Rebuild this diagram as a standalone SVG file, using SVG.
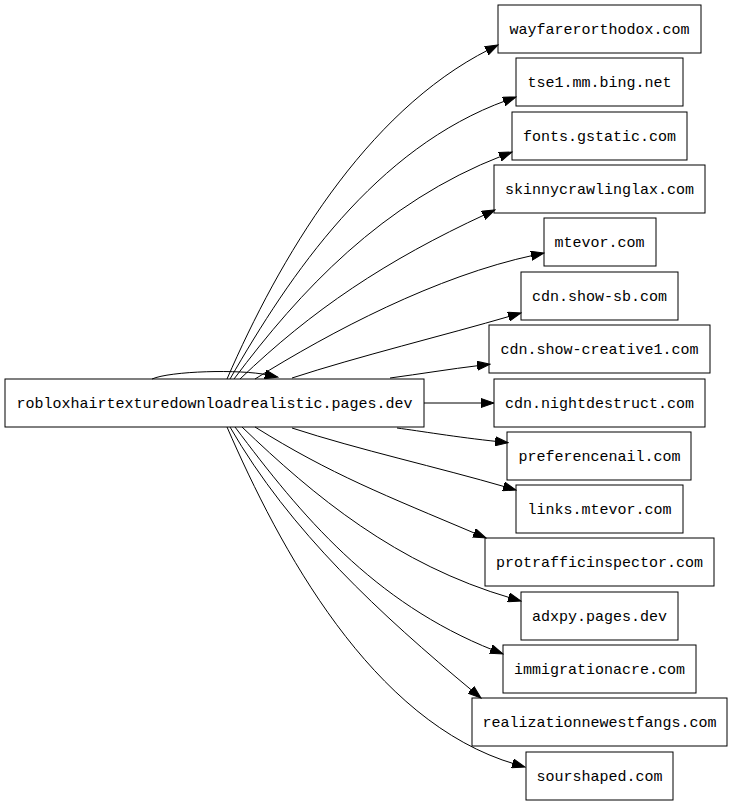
<svg xmlns="http://www.w3.org/2000/svg" width="733" height="805" viewBox="0 0 733 805">
<style>
.n rect{fill:none;stroke:#000;stroke-width:1}
.n text{font-family:"Liberation Mono","DejaVu Sans Mono",monospace;font-size:15px;fill:#000;text-anchor:middle}
.e path{fill:none;stroke:#000;stroke-width:1;marker-end:url(#ah)}
</style>
<defs>
<marker id="ah" viewBox="0 -5 14 10" refX="3" refY="0" markerWidth="14" markerHeight="10" markerUnits="userSpaceOnUse" orient="auto">
<path d="M0,-4.5 L13,0 L0,4.5 z" fill="#000" stroke="#000" stroke-width="1"/>
</marker>
</defs>
<rect width="733" height="805" fill="#fff"/>
<g id="edges" class="e">
<path d="M152,379 C170,371 240,369 268,375"/>
<path d="M227,379 C279,259.4 364.5,112.5 489.1,49.5"/>
<path d="M230,379 C290,274.6 375,148 506.6,100.4"/>
<path d="M234,379 C300,291 381.8,202.4 502.7,155.6"/>
<path d="M240,379 C312,310 385.8,260.4 485.9,214.2"/>
<path d="M255,379 C331.5,331.3 436.2,276.1 534.2,255.1"/>
<path d="M292,378 C358.5,356.3 444.2,335.4 511.4,315.8"/>
<path d="M390,378 C420,374 450,369 480.1,365.4"/>
<path d="M424,403 L484,403"/>
<path d="M397,428 C420,431 455,437 498.1,441.6"/>
<path d="M292,428 C358.5,449.7 439.2,467.6 506.4,487.2"/>
<path d="M255,427 C331.5,474.7 384.8,495.1 476.8,534.1"/>
<path d="M242,427 C314,496 396.2,564.6 511.4,598.2"/>
<path d="M235,427 C301,515 372.8,602.2 493.7,650.3"/>
<path d="M230,427 C290,531.4 380.9,614.8 473.3,691.6"/>
<path d="M227,427 C279,546.6 371.4,722.2 515.4,764.2"/>
</g>
<g id="n0" class="n"><rect x="5" y="379" width="419" height="48"/><text x="214.5" y="408">robloxhairtexturedownloadrealistic.pages.dev</text></g>
<g id="n1" class="n"><rect x="498" y="5" width="203" height="48"/><text x="599.5" y="34">wayfarerorthodox.com</text></g>
<g id="n2" class="n"><rect x="516" y="58" width="167" height="48"/><text x="599.5" y="87">tse1.mm.bing.net</text></g>
<g id="n3" class="n"><rect x="512" y="112" width="175" height="48"/><text x="599.5" y="141">fonts.gstatic.com</text></g>
<g id="n4" class="n"><rect x="494" y="165" width="211" height="48"/><text x="599.5" y="194">skinnycrawlinglax.com</text></g>
<g id="n5" class="n"><rect x="544" y="218" width="112" height="48"/><text x="599.5" y="247">mtevor.com</text></g>
<g id="n6" class="n"><rect x="521" y="272" width="157" height="48"/><text x="599.5" y="301">cdn.show-sb.com</text></g>
<g id="n7" class="n"><rect x="489" y="325" width="221" height="48"/><text x="599.5" y="354">cdn.show-creative1.com</text></g>
<g id="n8" class="n"><rect x="494" y="379" width="211" height="48"/><text x="599.5" y="408">cdn.nightdestruct.com</text></g>
<g id="n9" class="n"><rect x="507" y="432" width="184" height="48"/><text x="599.5" y="461">preferencenail.com</text></g>
<g id="n10" class="n"><rect x="516" y="485" width="167" height="48"/><text x="599.5" y="514">links.mtevor.com</text></g>
<g id="n11" class="n"><rect x="485" y="538" width="229" height="48"/><text x="599.5" y="567">protrafficinspector.com</text></g>
<g id="n12" class="n"><rect x="521" y="592" width="157" height="48"/><text x="599.5" y="621">adxpy.pages.dev</text></g>
<g id="n13" class="n"><rect x="503" y="645" width="193" height="48"/><text x="599.5" y="674">immigrationacre.com</text></g>
<g id="n14" class="n"><rect x="472" y="698" width="255" height="48"/><text x="599.5" y="727">realizationnewestfangs.com</text></g>
<g id="n15" class="n"><rect x="526" y="752" width="147" height="48"/><text x="599.5" y="781">sourshaped.com</text></g>
</svg>
